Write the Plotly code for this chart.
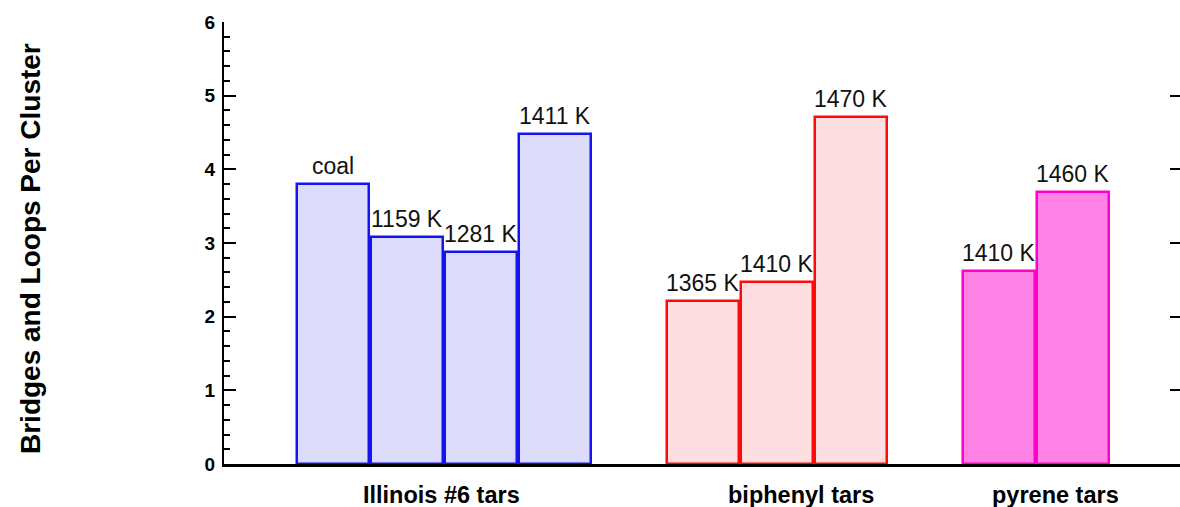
import plotly.graph_objects as go

# Group names drawn under the axis
groups = ["Illinois #6 tars", "biphenyl tars", "pyrene tars"]

# Bridges and loops per cluster for each sample
illinois_labels = ["coal", "1159 K", "1281 K", "1411 K"]
illinois_values = [3.80, 3.08, 2.88, 4.48]

biphenyl_labels = ["1365 K", "1410 K", "1470 K"]
biphenyl_values = [2.21, 2.47, 4.71]

pyrene_labels = ["1410 K", "1460 K"]
pyrene_values = [2.62, 3.69]

y_ticks = [0, 1, 2, 3, 4, 5, 6]

# Styling per group: (fill, outline)
group_styles = [
    ("rgb(220,220,250)", "rgb(20,20,240)"),
    ("rgb(253,222,225)", "rgb(255,10,10)"),
    ("rgb(255,130,230)", "rgb(255,0,200)"),
]
# Horizontal centre of each group caption, in bar-slot units
group_label_pos = [1.46, 6.32, 9.76]

FONT = "Liberation Sans, Arial, sans-serif"

series = [
    (illinois_labels, illinois_values),
    (biphenyl_labels, biphenyl_values),
    (pyrene_labels, pyrene_values),
]

fig = go.Figure()
annotations = []

slot = 0
for (labels, values), (fill, line) in zip(series, group_styles):
    xs = [slot + i for i in range(len(values))]
    fig.add_trace(go.Bar(
        x=xs, y=values, width=0.975,
        marker=dict(color=fill, line=dict(color=line, width=2.5)),
        showlegend=False, hoverinfo="skip",
    ))
    for x, v, lab in zip(xs, values, labels):
        annotations.append(dict(
            x=x, y=v, xref="x", yref="y", text=lab, showarrow=False,
            yanchor="bottom", yshift=3,
            font=dict(family=FONT, size=23, color="#111"),
        ))
    slot += len(values) + 1

# empty trace so the right-hand tick axis is drawn
fig.add_trace(go.Scatter(x=[None], y=[None], yaxis="y2",
                         showlegend=False, hoverinfo="skip"))

for name, pos in zip(groups, group_label_pos):
    annotations.append(dict(
        x=pos, y=0, xref="x", yref="paper", text=f"<b>{name}</b>",
        showarrow=False, yanchor="middle", yshift=-31,
        font=dict(family=FONT, size=23.5, color="black"),
    ))

annotations.append(dict(
    x=0, y=0.5, xref="paper", yref="paper", xshift=-194, yshift=-6,
    text="<b>Bridges and Loops Per Cluster</b>", textangle=-90,
    showarrow=False, xanchor="center", yanchor="middle",
    font=dict(family=FONT, size=28, color="black"),
))

fig.update_layout(
    width=1180, height=507,
    margin=dict(l=224, r=0, t=22, b=43),
    paper_bgcolor="white", plot_bgcolor="white",
    bargap=0,
    font=dict(family=FONT, color="black"),
    xaxis=dict(
        range=[-1.473, 11.446], showgrid=False, zeroline=False,
        showticklabels=False, ticks="",
        showline=True, linecolor="black", linewidth=2.5,
    ),
    yaxis=dict(
        range=[0, 6], tickvals=y_ticks, showgrid=False, zeroline=False,
        showline=True, linecolor="black", linewidth=2,
        ticks="inside", ticklen=12, tickwidth=2, tickcolor="black",
        tickfont=dict(family=FONT, size=19, color="black", weight="bold"),
        ticklabelstandoff=3,
        minor=dict(dtick=0.2, ticks="inside", ticklen=6, tickwidth=2,
                   tickcolor="black", showgrid=False),
    ),
    yaxis2=dict(
        range=[0, 6], tickvals=y_ticks, overlaying="y", side="right",
        showgrid=False, zeroline=False, showline=False,
        showticklabels=False, ticks="inside", ticklen=10, tickwidth=2,
        tickcolor="black",
    ),
    annotations=annotations,
)

fig.write_html("out.html")
